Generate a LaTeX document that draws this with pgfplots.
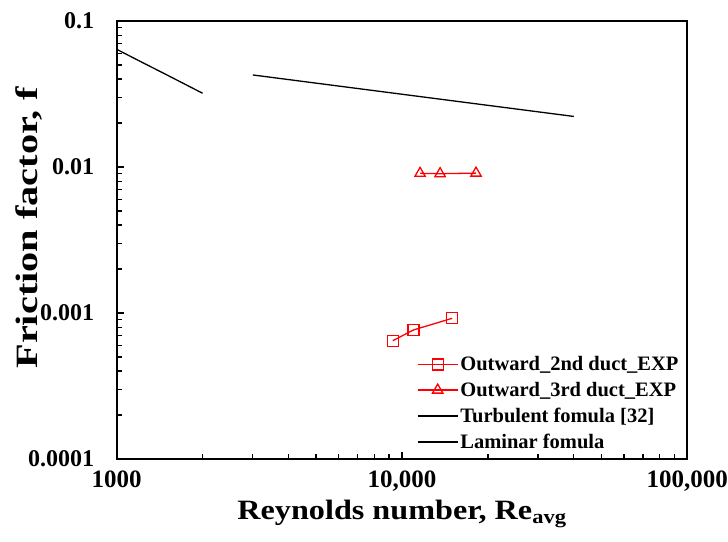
\documentclass[border=0pt]{standalone}
\usepackage{fontspec}
\setmainfont{Liberation Serif}
\newfontfamily\labelfont{Liberation Serif}[FakeStretch=1.15]
\newfontfamily\ylabelfont{Liberation Serif}[FakeStretch=1.3]
\usepackage{pgfplots}
\pgfplotsset{compat=1.18}
\begin{document}
\begin{tikzpicture}
\begin{axis}[
  name=ax,
  xmode=log, ymode=log,
  scale only axis,
  width=570.6pt, height=438pt,
  xmin=1000, xmax=100000,
  ymin=0.0001, ymax=0.1,
  xtick={1000,10000,100000},
  xticklabels={1000,{10,000},{100,000}},
  ytick={0.0001,0.001,0.01,0.1},
  yticklabels={0.0001,0.001,0.01,0.1},
  xtick pos=bottom, ytick pos=left,
  tick align=inside,
  major tick length=7pt,
  minor tick length=5pt,
  axis line style={line width=1.8pt},
  every tick/.style={black, line width=1.3pt},
  xticklabel style={font=\fontsize{25}{27}\selectfont\bfseries, yshift=-8pt},
  yticklabel style={font=\fontsize{24}{26}\selectfont\bfseries, anchor=east, xshift=-19pt},
  xlabel={\labelfont\fontsize{28}{30}\selectfont\bfseries Reynolds number, Re\textsubscript{avg}},
  ylabel={\ylabelfont\fontsize{31}{33}\selectfont\bfseries Friction factor, f},
  xlabel style={yshift=-2pt},
  ylabel style={at={(axis description cs:-0.153,0.528)}, anchor=center, rotate=0},
  legend style={draw=none, fill=none, at={(0.526,0.239)}, anchor=north west,
    font=\fontsize{20.5}{23}\selectfont\bfseries, row sep=6pt,
    legend cell align=left, inner sep=0pt},
  legend image code/.code={\draw[mark repeat=2,mark phase=2,#1] plot coordinates {(0pt,0pt) (20pt,0pt) (40pt,0pt)};},
]
\addplot[red, line width=1.3pt, mark=square, mark size=5.5pt, mark options={red, solid, line width=1.3pt}]
  coordinates {(9280,0.000646) (10960,0.000765) (15000,0.00092)};
\addlegendentry{Outward\_2nd duct\_EXP}
\addplot[red, line width=1.3pt, mark=triangle, mark size=6pt, mark options={red, solid, line width=1.3pt}]
  coordinates {(11570,0.00905) (13600,0.00900) (18170,0.00908)};
\addlegendentry{Outward\_3rd duct\_EXP}
\addplot[black, line width=1.3pt] coordinates {(3000,0.0427) (40000,0.0222)};
\addlegendentry{Turbulent fomula [32]}
\addplot[black, line width=1.3pt] coordinates {(1000,0.064) (1200,0.0533) (1500,0.0427) (2000,0.032)};
\addlegendentry{Laminar fomula}
\end{axis}
\pgfresetboundingbox
\path ([shift={(-116.7pt,-83pt)}]ax.south west) rectangle ([shift={(40.7pt,21pt)}]ax.north east);
\end{tikzpicture}
\end{document}
